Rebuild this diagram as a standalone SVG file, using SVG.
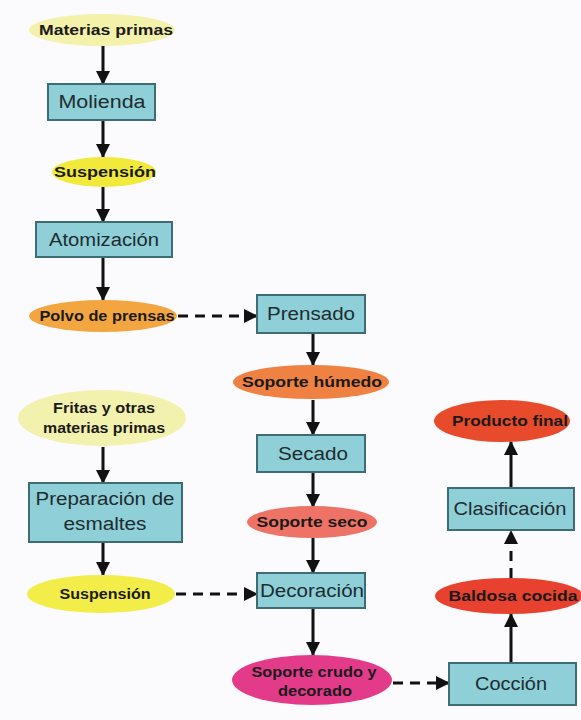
<svg xmlns="http://www.w3.org/2000/svg" width="581" height="720" viewBox="0 0 581 720">
<defs>
<style>
.box{fill:#8fcfd7;stroke:#3d6c74;stroke-width:2}
.bt{font-family:"Liberation Sans",Arial,sans-serif;font-size:18px;fill:#1e2c30;text-anchor:middle}
.et{font-family:"Liberation Sans",Arial,sans-serif;font-size:14.5px;font-weight:bold;fill:#1a1a1a;text-anchor:middle}
.ln{stroke:#111;stroke-width:3;fill:none;marker-end:url(#ah)}
.ds{stroke-dasharray:10 7}
</style>
<marker id="ah" markerUnits="userSpaceOnUse" markerWidth="16" markerHeight="16" refX="13" refY="8" orient="auto">
<path d="M0,1 L14,8 L0,15 Z" fill="#111"/>
</marker>
</defs>
<rect width="581" height="720" fill="#fbfbfd"/>
<g id="connectors">
<line class="ln" x1="103" y1="45" x2="103" y2="84"/>
<line class="ln" x1="103" y1="120" x2="103" y2="157"/>
<line class="ln" x1="103" y1="187" x2="103" y2="222"/>
<line class="ln" x1="103" y1="257" x2="103" y2="300"/>
<line class="ln ds" x1="178" y1="316" x2="257" y2="316"/>
<line class="ln" x1="313" y1="333" x2="313" y2="365"/>
<line class="ln" x1="313" y1="400" x2="313" y2="435"/>
<line class="ln" x1="313" y1="472" x2="313" y2="507"/>
<line class="ln" x1="313" y1="538" x2="313" y2="573"/>
<line class="ln" x1="313" y1="608" x2="313" y2="655"/>
<line class="ln ds" x1="393" y1="683" x2="449" y2="683"/>
<line class="ln" x1="511" y1="663" x2="511" y2="614"/>
<line class="ln ds" x1="511" y1="578" x2="511" y2="531"/>
<line class="ln" x1="511" y1="488" x2="511" y2="442"/>
<line class="ln" x1="103" y1="447" x2="103" y2="483"/>
<line class="ln" x1="103" y1="542" x2="103" y2="575"/>
<line class="ln ds" x1="176" y1="594" x2="257" y2="594"/>
</g>
<g id="materias-primas"><ellipse cx="102" cy="30" rx="73" ry="16" fill="#f4f1aa"/><text class="et" x="106" y="35" textLength="134" lengthAdjust="spacingAndGlyphs">Materias primas</text></g>
<g id="molienda"><rect class="box" x="48" y="84" width="107" height="36"/><text class="bt" x="102" y="108" textLength="87" lengthAdjust="spacingAndGlyphs">Molienda</text></g>
<g id="suspension1"><ellipse cx="104" cy="172" rx="52" ry="15" fill="#f1ea3a"/><text class="et" x="105" y="177" textLength="102" lengthAdjust="spacingAndGlyphs">Suspensión</text></g>
<g id="atomizacion"><rect class="box" x="36" y="222" width="136" height="35"/><text class="bt" x="104" y="246" textLength="110" lengthAdjust="spacingAndGlyphs">Atomización</text></g>
<g id="polvo"><ellipse cx="103" cy="316" rx="74" ry="16" fill="#f3a540"/><text class="et" x="107" y="321" textLength="135" lengthAdjust="spacingAndGlyphs">Polvo de prensas</text></g>
<g id="prensado"><rect class="box" x="257" y="295" width="108" height="38"/><text class="bt" x="311" y="320" textLength="88" lengthAdjust="spacingAndGlyphs">Prensado</text></g>
<g id="soporte-humedo"><ellipse cx="311" cy="382" rx="78" ry="17" fill="#ef8142"/><text class="et" x="312" y="387" textLength="140" lengthAdjust="spacingAndGlyphs">Soporte húmedo</text></g>
<g id="secado"><rect class="box" x="257" y="435" width="108" height="37"/><text class="bt" x="313" y="460" textLength="70" lengthAdjust="spacingAndGlyphs">Secado</text></g>
<g id="soporte-seco"><ellipse cx="312" cy="522" rx="65" ry="16" fill="#ee7266"/><text class="et" x="312" y="527" textLength="111" lengthAdjust="spacingAndGlyphs">Soporte seco</text></g>
<g id="decoracion"><rect class="box" x="257" y="573" width="108" height="35"/><text class="bt" x="312" y="597" textLength="104" lengthAdjust="spacingAndGlyphs">Decoración</text></g>
<g id="soporte-crudo"><ellipse cx="312" cy="680" rx="80" ry="25" fill="#e43a8a"/><text class="et" x="314" y="677" textLength="125" lengthAdjust="spacingAndGlyphs">Soporte crudo y</text><text class="et" x="315" y="696" textLength="74" lengthAdjust="spacingAndGlyphs">decorado</text></g>
<g id="coccion"><rect class="box" x="449" y="663" width="127" height="42"/><text class="bt" x="511" y="690" textLength="72" lengthAdjust="spacingAndGlyphs">Cocción</text></g>
<g id="baldosa"><ellipse cx="509" cy="596" rx="74" ry="18" fill="#e8412f"/><text class="et" x="513" y="601" textLength="129" lengthAdjust="spacingAndGlyphs">Baldosa cocida</text></g>
<g id="clasificacion"><rect class="box" x="448" y="488" width="126" height="42"/><text class="bt" x="510" y="515" textLength="113" lengthAdjust="spacingAndGlyphs">Clasificación</text></g>
<g id="producto-final"><ellipse cx="502" cy="421" rx="68" ry="21" fill="#e84a2c"/><text class="et" x="510" y="426" textLength="116" lengthAdjust="spacingAndGlyphs">Producto final</text></g>
<g id="fritas"><ellipse cx="102" cy="418" rx="84" ry="28" fill="#f3f1ae"/><text class="et" x="104" y="413" textLength="102" lengthAdjust="spacingAndGlyphs">Fritas y otras</text><text class="et" x="104" y="433" textLength="122" lengthAdjust="spacingAndGlyphs">materias primas</text></g>
<g id="preparacion"><rect class="box" x="29" y="483" width="153" height="59"/><text class="bt" x="105" y="505" textLength="139" lengthAdjust="spacingAndGlyphs">Preparación de</text><text class="bt" x="105" y="530" textLength="83" lengthAdjust="spacingAndGlyphs">esmaltes</text></g>
<g id="suspension2"><ellipse cx="101" cy="594" rx="74" ry="19" fill="#f2ed48"/><text class="et" x="105" y="599" textLength="91" lengthAdjust="spacingAndGlyphs">Suspensión</text></g>
</svg>
